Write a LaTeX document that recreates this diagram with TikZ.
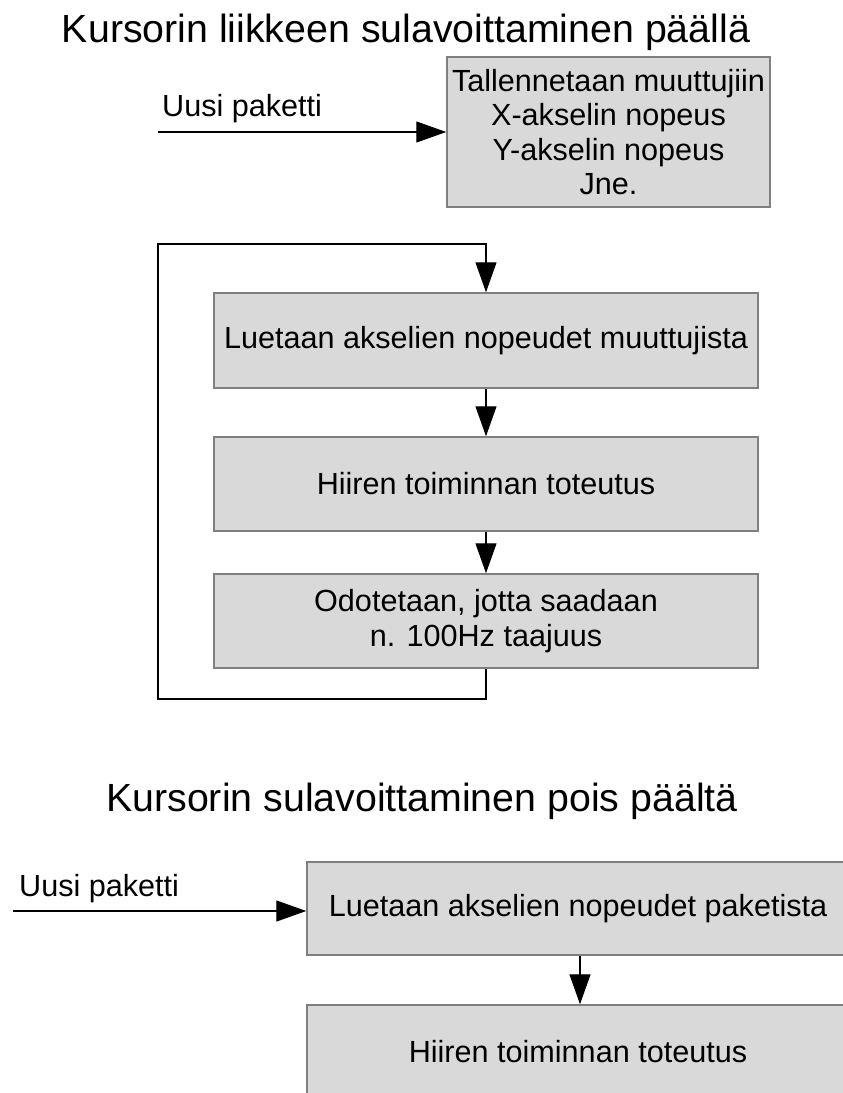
\documentclass[tikz,border=0pt]{standalone}
\usepackage{fontspec}
\setmainfont{Liberation Sans}
\usetikzlibrary{arrows.meta}
\definecolor{boxfill}{HTML}{D9D9D9}
\definecolor{boxline}{HTML}{7F7F7F}
\begin{document}
\begin{tikzpicture}[x=1pt,y=-1pt,
  heading/.style={font=\fontsize{39.3}{44}\selectfont, inner sep=0pt, anchor=base},
  tag/.style={font=\fontsize{30.6}{34}\selectfont, inner sep=0pt, anchor=base west},
  stepbox/.style={draw=boxline, fill=boxfill, line width=1.5pt, rectangle,
    inner sep=0pt, align=center, font=\fontsize{30.6}{34.5}\selectfont},
  flow/.style={line width=1.2pt, -{Triangle[length=30pt,width=21pt]}},
  plain/.style={line width=1.2pt}]
\useasboundingbox (0,0) rectangle (843,1093);
\clip (0,0) rectangle (843,1093);

% ---- smoothing on ----
\node[heading] (title1) at (406,42) {Kursorin liikkeen sulavoittaminen päällä};
\node[tag] (in1lbl) at (162,116) {Uusi paketti};
\coordinate (in1) at (158,132);

\node[stepbox, minimum width=323pt, minimum height=150pt] (store) at (608.5,132)
  {Tallennetaan muuttujiin\\X-akselin nopeus\\Y-akselin nopeus\\Jne.};
\node[stepbox, minimum width=544pt, minimum height=95pt] (read) at (486,340.5)
  {Luetaan akselien nopeudet muuttujista};
\node[stepbox, minimum width=544pt, minimum height=94pt] (mouse) at (486,484)
  {Hiiren toiminnan toteutus};
\node[stepbox, minimum width=544pt, minimum height=94pt] (wait) at (486,621)
  {Odotetaan, jotta saadaan\\n. 100Hz taajuus};

\coordinate (loopbr) at (486,699);
\coordinate (loopbl) at (158,699);
\coordinate (looptl) at (158,244);
\coordinate (looptr) at (486,244);

\draw[flow] (in1) -- (in1 -| store.west);
\draw[flow] (read) -- (mouse);
\draw[flow] (mouse) -- (wait);
\draw[flow] (wait.south) -- (loopbr) -- (loopbl) -- (looptl) -- (looptr) -- (read.north);

% ---- smoothing off ----
\node[heading] (title2) at (422,811) {Kursorin sulavoittaminen pois päältä};
\node[tag] (in2lbl) at (19,896) {Uusi paketti};
\coordinate (in2) at (13,911);

\node[stepbox, minimum width=542pt, minimum height=93pt] (readpkt) at (578,908.5)
  {Luetaan akselien nopeudet paketista};
\node[stepbox, minimum width=542pt, minimum height=94pt] (mouse2) at (578,1052)
  {Hiiren toiminnan toteutus};

\draw[flow] (in2) -- (in2 -| readpkt.west);
\draw[flow] (readpkt.south -| 580,0) -- (mouse2.north -| 580,0);
\end{tikzpicture}
\end{document}
